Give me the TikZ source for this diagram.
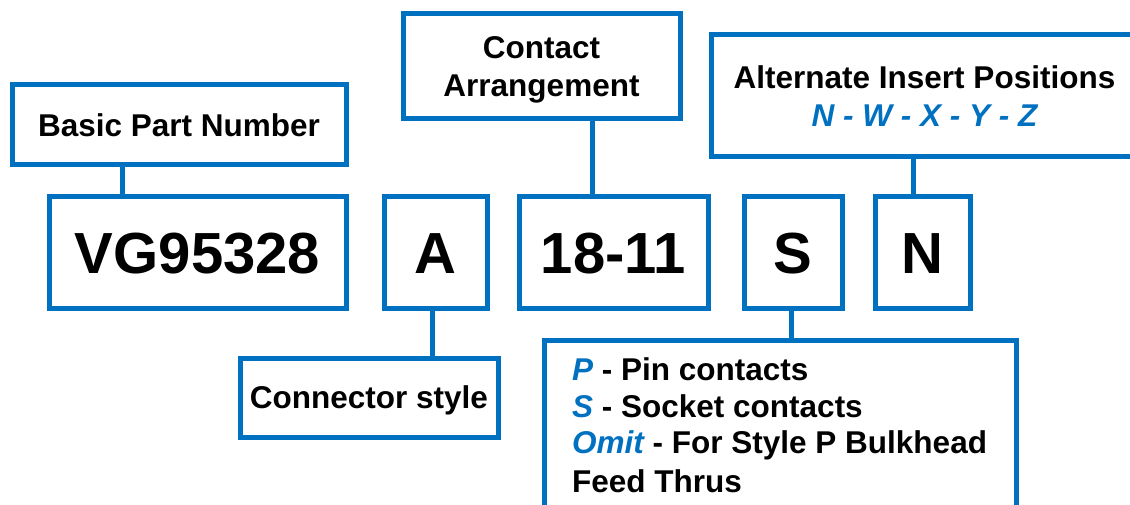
\documentclass[tikz,border=0pt]{standalone}
\usepackage{fontspec}
\setmainfont{Liberation Sans}
\usetikzlibrary{calc}
\definecolor{boxblue}{RGB}{0,112,192}
\tikzset{
  box/.style={draw=boxblue, line width=5pt, rectangle, inner sep=0pt, fill=white},
  big/.style={font=\bfseries\fontsize{58}{60}\selectfont, text height=41.5pt, text depth=0pt},
  small/.style={font=\bfseries\fontsize{31.5}{38}\selectfont},
  oneline/.style={text height=22.6pt, text depth=0pt},
  link/.style={draw=boxblue, line width=5pt},
  pline/.style={anchor=base west, inner sep=0pt, font=\bfseries\fontsize{31.5}{38}\selectfont}
}
\newcommand{\bl}[1]{\textcolor{boxblue}{\itshape #1}}
\begin{document}
\begin{tikzpicture}[x=1pt,y=-1pt]
\useasboundingbox (0,0) rectangle (1130,505);
\clip (0,0) rectangle (1130,505);
\node[box, big, minimum width=297pt, minimum height=112pt] (vg) at (197.5,252.5) {VG95328};
\node[box, big, minimum width=103pt, minimum height=112pt] (a) at (435.5,252.5) {A};
\node[box, big, minimum width=189pt, minimum height=112pt] (num) at (613.5,252.5) {18-11};
\node[box, big, minimum width=98pt, minimum height=112pt] (s) at (793,252.5) {S};
\node[box, big, minimum width=95pt, minimum height=112pt] (n) at (922.5,252.5) {N};
\node[box, small, oneline, minimum width=334pt, minimum height=80pt] (bpn) at (179,125) {Basic Part Number};
\node[box, small, align=center, text depth=0pt, minimum width=277pt, minimum height=105pt] (ca) at (541.5,66.5) {Contact\\Arrangement};
\node[box, small, align=center, text depth=0pt, minimum width=427pt, minimum height=122pt] (alt) at (924.5,96) {Alternate Insert Positions\\\bl{N - W - X - Y - Z}};
\node[box, small, oneline, minimum width=258pt, minimum height=79pt] (cs) at (369,397.5) {Connector style};
\node[box, minimum width=472pt, minimum height=167pt] (pb) at (780,423.5) {};
\node[pline] (p1) at (572,380) {\bl{P} - Pin contacts};
\node[pline] (p2) at (572,417) {\bl{S} - Socket contacts};
\node[pline] (p3) at (572,453) {\bl{Omit} - For Style P Bulkhead};
\node[pline] (p4) at (572,492) {Feed Thrus};
% connectors
\coordinate (c1) at ($(vg.north west)!0.25!(vg.north east)$);
\draw[link] (c1) -- (c1 |- bpn.south);
\coordinate (c2) at ([xshift=-3.5pt]a.south);
\draw[link] (c2) -- (c2 |- cs.north);
\coordinate (c3) at ([xshift=-21.5pt]num.north);
\draw[link] (c3) -- (c3 |- ca.south);
\coordinate (c4) at ([xshift=-2pt]s.south);
\draw[link] (c4) -- (c4 |- pb.north);
\coordinate (c5) at ([xshift=-9.5pt]n.north);
\draw[link] (c5) -- (c5 |- alt.south);
\end{tikzpicture}
\end{document}
